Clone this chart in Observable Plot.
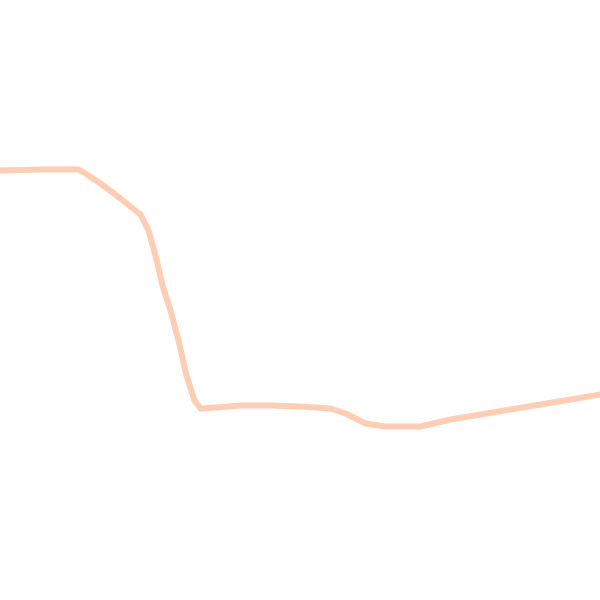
<!DOCTYPE html>
<html>
<head>
<meta charset="utf-8">
<script src="https://cdn.jsdelivr.net/npm/d3@7"></script>
<script src="https://cdn.jsdelivr.net/npm/@observablehq/plot@0.6"></script>
<style>
html,body{margin:0;padding:0;background:#fff;}
</style>
</head>
<body>
<div id="chart"></div>
<script>
const xs = [0, 40, 78, 85, 100, 120, 140, 148, 155, 162, 170, 178, 186, 194, 200, 215, 240, 270, 300, 330, 345, 365, 385, 420, 450, 480, 510, 540, 570, 600];
const ys = [430, 431, 431, 427, 417, 402, 386, 370, 345, 315, 290, 260, 225, 200, 192, 193, 195, 195, 194, 192, 187, 177, 174, 174, 181, 186, 191, 196, 201, 206];
const data = xs.map((x, i) => ({x, y: ys[i]}));
const chart = Plot.plot({
  width: 600,
  height: 600,
  margin: 0,
  x: {domain: [0, 600], axis: null},
  y: {domain: [0, 600], axis: null},
  marks: [
    Plot.line(data, {x: "x", y: "y", stroke: "#fdcdb4", strokeWidth: 6, curve: "linear"})
  ]
});
document.getElementById("chart").append(chart);
</script>
</body>
</html>
